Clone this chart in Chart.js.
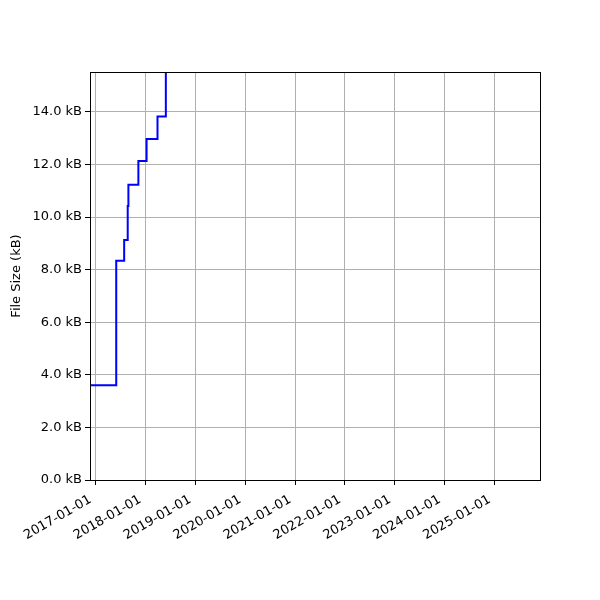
<!DOCTYPE html>
<html><head><meta charset="utf-8">
<script src="https://cdn.jsdelivr.net/npm/chart.js@4"></script>
<style>html,body{margin:0;padding:0;background:#fff}#wrap{width:600px;height:600px}</style>
</head><body><div id="wrap"><canvas id="c" width="600" height="600"></canvas></div>
<script>
const changeDates = ['2016-11-01','2017-06-02','2017-07-30','2017-08-25','2017-08-30','2017-11-11','2018-01-10','2018-03-31','2018-05-31'];
const fileSizesKB = [3.6, 8.34, 9.13, 10.42, 11.23, 12.13, 12.97, 13.83, 16.5];
const yearTicks = ['2017-01-01','2018-01-01','2019-01-01','2020-01-01','2021-01-01','2022-01-01','2023-01-01','2024-01-01','2025-01-01'];
const yTicks = [0, 2, 4, 6, 8, 10, 12, 14];
const xMinDate = '2016-11-22', xMaxDate = '2025-11-28';
const yMax = 15.52;

const ts = s => Date.parse(s + 'T00:00:00Z');
const pad2 = n => String(n).padStart(2,'0');
const fmtDate = v => { const d = new Date(v); return d.getUTCFullYear() + '-' + pad2(d.getUTCMonth()+1) + '-' + pad2(d.getUTCDate()); };

const frame = {
  id: 'frame',
  afterDraw(chart) {
    const {ctx, chartArea: a} = chart;
    ctx.save(); ctx.strokeStyle = '#000'; ctx.lineWidth = 1;
    ctx.strokeRect(Math.round(a.left)+0.5, Math.round(a.top)+0.5, Math.round(a.right-a.left), Math.round(a.bottom-a.top));
    ctx.restore();
  }
};

const font = {family: 'DejaVu Sans', size: 13};
new Chart(document.getElementById('c'), {
  type: 'line',
  data: { datasets: [{
    data: changeDates.map((d,i) => ({x: ts(d), y: fileSizesKB[i]})),
    borderColor: '#0000ff', borderWidth: 2, stepped: 'before', pointRadius: 0, fill: false, clip: 0
  }]},
  options: {
    responsive: false, animation: false, devicePixelRatio: 1,
    layout: {padding: {top: 72, right: 60, left: 0, bottom: 0}},
    plugins: {legend: {display: false}, tooltip: {enabled: false}},
    scales: {
      x: {
        type: 'linear', min: ts(xMinDate), max: ts(xMaxDate),
        afterBuildTicks: s => { s.ticks = yearTicks.map(t => ({value: ts(t)})); },
        afterFit: s => { s.height = 120; },
        grid: {color: '#b0b0b0', lineWidth: 1, tickColor: '#000', tickLength: 5},
        border: {color: '#000', width: 1},
        ticks: {font, color: '#000', minRotation: 30, maxRotation: 30, padding: 7, labelOffset: -5, autoSkip: false,
          callback: v => fmtDate(v)}
      },
      y: {
        type: 'linear', min: 0, max: yMax,
        afterBuildTicks: s => { s.ticks = yTicks.map(v => ({value: v})); },
        afterFit: s => { s.width = 90; },
        grid: {color: '#b0b0b0', lineWidth: 1, tickColor: '#000', tickLength: 5},
        border: {color: '#000', width: 1},
        ticks: {font, color: '#000', padding: 3, callback: v => v.toFixed(1) + ' kB'},
        title: {display: true, text: 'File Size (kB)', font, color: '#000', padding: {top: 9, bottom: 2}}
      }
    }
  },
  plugins: [frame]
});
</script></body></html>
